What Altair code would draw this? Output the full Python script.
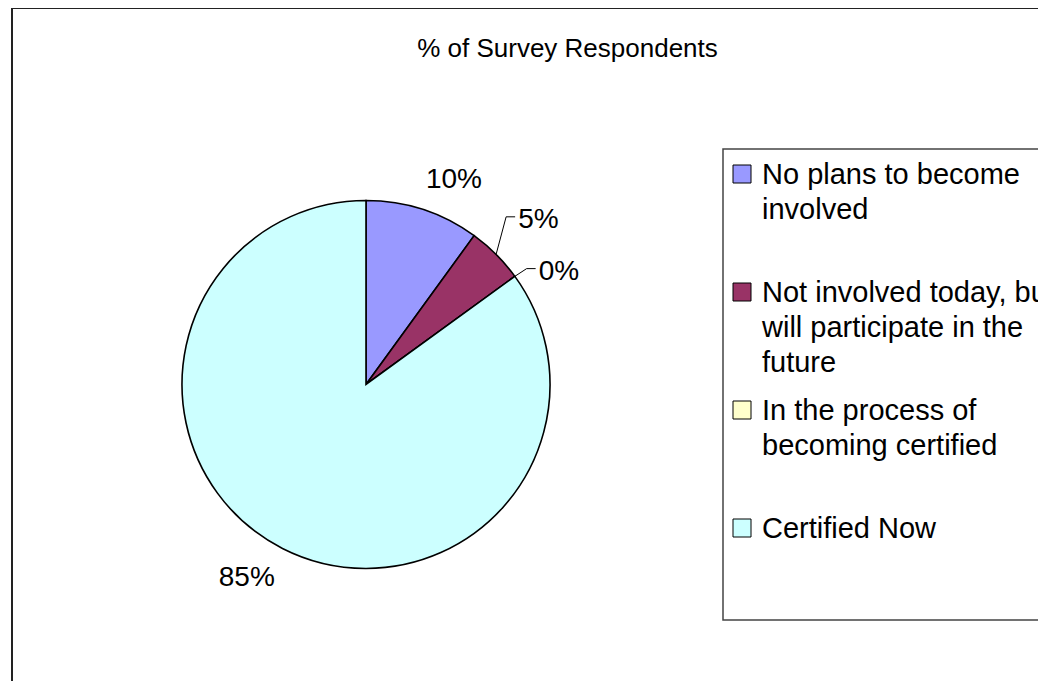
import altair as alt
import pandas as pd

# ---------------- data ----------------
categories = [
    "No plans to become involved",
    "Not involved today, but will participate in the future",
    "In the process of becoming certified",
    "Certified Now",
]
legend_lines = [
    "No plans to become\ninvolved",
    "Not involved today, but\nwill participate in the\nfuture",
    "In the process of\nbecoming certified",
    "Certified Now",
]
percent = [10, 5, 0, 85]
colors = ["#9999FF", "#993366", "#FFFFCC", "#CCFFFF"]
title_text = "% of Survey Respondents"

# ---------------- layout / style ----------------
W, H = 1030, 673
CX, CY, R = 358, 376.5, 184
LABEL_D = 225          # distance of label centre from pie centre
LABEL_ROT = 5          # degrees, label placement rotation (Excel best-fit look)
SMALL = 8              # slices under this % get leader lines
FONT = "Liberation Sans"
FS = 28
LEG_FS = 29
LEG_SYM_X, LEG_TEXT_X = 734, 754
LEG_Y0, LEG_STEP = 166, 118

df = pd.DataFrame({
    "category": categories,
    "legend": legend_lines,
    "value": percent,
    "idx": list(range(len(categories))),
})
df["label"] = df["value"].astype(str) + "%"

color_scale = alt.Scale(domain=categories, range=colors)
base = alt.Chart(df)

# outer chart frame
frame = alt.Chart(pd.DataFrame({"k": [0]})).mark_rect(
    fill="white", stroke="#222222", strokeWidth=2
).encode(x=alt.value(4), y=alt.value(0), x2=alt.value(1300), y2=alt.value(1000))

# legend frame
leg_frame = alt.Chart(pd.DataFrame({"k": [0]})).mark_rect(
    fill="white", stroke="#444444", strokeWidth=1.5
).encode(x=alt.value(715), y=alt.value(141), x2=alt.value(1300), y2=alt.value(612))

# title
title = alt.Chart(pd.DataFrame({"t": [title_text]})).mark_text(
    font=FONT, fontSize=26, align="center", baseline="alphabetic", color="black"
).encode(text="t:N", x=alt.value(559.5), y=alt.value(49))

# pie
pie = base.mark_arc(radius=R, stroke="black", strokeWidth=1.6).encode(
    theta=alt.Theta("value:Q", stack=True),
    color=alt.Color("category:N", scale=color_scale, legend=None),
    order=alt.Order("idx:Q"),
    x=alt.value(CX),
    y=alt.value(CY),
)

# label geometry computed from data
lab = base.transform_window(
    cum="sum(value)", sort=[alt.SortField("idx")], frame=[None, 0]
).transform_joinaggregate(
    total="sum(value)"
).transform_calculate(
    ang="2*PI*(datum.cum - datum.value/2)/datum.total",
    hw=f"((length(datum.label)-1)*0.556 + 0.889)*{FS}/2",
).transform_calculate(
    lang=f"datum.ang + {LABEL_ROT}*PI/180",
    ex=f"{CX} + {R}*sin(datum.ang)",
    ey=f"{CY} - {R}*cos(datum.ang)",
).transform_calculate(
    lx=f"{CX} + {LABEL_D}*sin(datum.lang)",
    ly0=f"{CY} - {LABEL_D}*cos(datum.lang)",
).transform_window(
    next_ly="lead(ly0)", next_val="lead(value)", sort=[alt.SortField("idx")]
).transform_calculate(
    # push a small-slice label up when the following label is also small
    ly=f"(datum.value < {SMALL} && datum.next_val != null && datum.next_val < {SMALL})"
       f" ? min(datum.ly0, datum.next_ly - 1.85*{FS}) : datum.ly0",
).transform_calculate(
    elx="datum.lx - datum.hw - 12",
    endx="datum.lx - datum.hw - 3",
)

labels = lab.mark_text(
    font=FONT, fontSize=FS, align="center", baseline="middle", color="black", dy=3
).encode(
    text="label:N",
    x=alt.X("lx:Q", scale=None, axis=None),
    y=alt.Y("ly:Q", scale=None, axis=None),
)

small = lab.transform_filter(f"datum.value < {SMALL}")
lead1 = small.mark_rule(color="black", strokeWidth=1).encode(
    x=alt.X("ex:Q", scale=None, axis=None),
    y=alt.Y("ey:Q", scale=None, axis=None),
    x2="elx:Q",
    y2="ly:Q",
)
lead2 = small.mark_rule(color="black", strokeWidth=1).encode(
    x=alt.X("elx:Q", scale=None, axis=None),
    y=alt.Y("ly:Q", scale=None, axis=None),
    x2="endx:Q",
    y2="ly:Q",
)

# manual legend
leg = base.transform_calculate(
    sy=f"{LEG_Y0} + datum.idx*{LEG_STEP}",
    ty=f"{LEG_Y0} + 9.5 + datum.idx*{LEG_STEP}",
)
leg_sym = leg.mark_square(size=324, stroke="black", strokeWidth=1, opacity=1).encode(
    x=alt.value(LEG_SYM_X),
    y=alt.Y("sy:Q", scale=None, axis=None),
    color=alt.Color("category:N", scale=color_scale, legend=None),
)
leg_txt = leg.mark_text(
    font=FONT, fontSize=LEG_FS, align="left", baseline="alphabetic",
    lineBreak="\n", lineHeight=35, color="black"
).encode(
    x=alt.value(LEG_TEXT_X),
    y=alt.Y("ty:Q", scale=None, axis=None),
    text="legend:N",
)

chart = alt.layer(
    frame, leg_frame, title, pie, lead1, lead2, labels, leg_sym, leg_txt
).properties(
    width=W, height=H, padding=0, autosize=alt.AutoSizeParams(type="none"),
    background="white",
).configure_view(stroke=None)

chart.save("out.html", embed_options={"renderer": "svg", "actions": False})
